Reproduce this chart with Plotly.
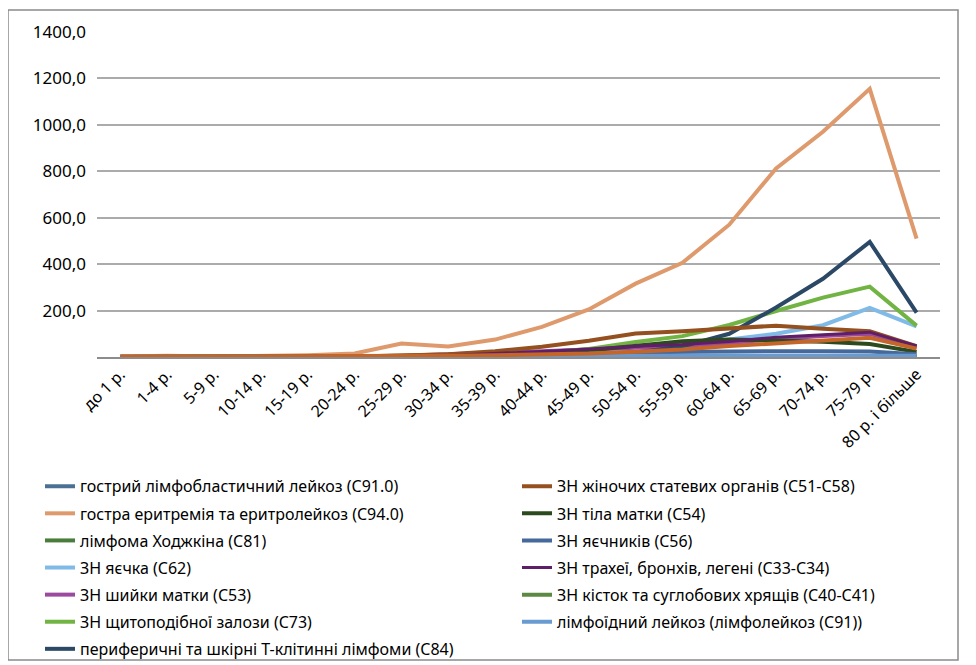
import plotly.graph_objects as go

ages = ["до 1 р.", "1-4 р.", "5-9 р.", "10-14 р.", "15-19 р.", "20-24 р.", "25-29 р.",
        "30-34 р.", "35-39 р.", "40-44 р.", "45-49 р.", "50-54 р.", "55-59 р.", "60-64 р.",
        "65-69 р.", "70-74 р.", "75-79 р.", "80 р. і більше"]

y_tick_values = [200, 400, 600, 800, 1000, 1200, 1400]
y_tick_labels = ["200,0", "400,0", "600,0", "800,0", "1000,0", "1200,0", "1400,0"]

c91_0 = [3, 5, 3, 2, 2, 1, 1, 1, 1, 1, 1, 1.5, 2, 2, 2.5, 3, 3, 2]
c94_0 = [2, 5, 2, 4, 8, 15, 58, 45, 75, 130, 205, 316, 406, 570, 812, 970, 1155, 510]
c81 = [0, 1, 2, 3, 4, 4, 4, 3, 3, 3, 3, 3, 3, 3, 3, 3, 3, 1]
c62 = [0, 0, 0, 0, 1, 2, 3, 5, 7, 10, 15, 22, 55, 75, 100, 137, 212, 132]
c53 = [0, 0, 0, 0, 0.5, 2, 5, 10, 18, 25, 32, 41, 47, 60, 78, 90, 100, 42]
c73 = [0, 0, 0, 0.5, 1, 3, 5, 8, 12, 18, 35, 65, 90, 138, 198, 256, 303, 135]
c84 = [0, 0, 0, 0, 0, 0.5, 1, 1, 2, 3, 8, 18, 46, 100, 213, 337, 496, 191]
c51_58 = [0, 0, 0, 0, 1, 2, 6, 12, 25, 44, 70, 101, 111, 122, 135, 122, 111, 47]
c54 = [0, 0, 0, 0, 0, 0.5, 1, 3, 6, 14, 28, 50, 68, 75, 72, 66, 56, 22]
c56 = [0, 0, 0, 0.5, 1, 1.5, 2, 3, 5, 8, 14, 20, 23, 24, 25, 25, 24, 12]
c33_34 = [0, 0, 0, 0, 0, 1, 3, 6, 14, 24, 34, 46, 54, 67, 85, 97, 107, 48]
c40_41 = [0, 1, 2, 3, 3, 2, 2, 1, 1, 1, 1, 1, 1, 1, 1, 1, 1, 0.5]
c91 = [1, 2, 1, 1, 1, 1, 1, 1, 1.5, 2, 3, 4, 5, 6, 6, 7, 7, 5]
extra_orange = [2, 2, 1, 1, 1, 2, 3, 5, 8, 11, 15, 23, 32, 47, 58, 68, 83, 36]

series = [
    ("гострий лімфобластичний лейкоз (C91.0)", c91_0, "#4C6F94", "legend", 4),
    ("гостра еритремія та еритролейкоз (C94.0)", c94_0, "#DE9A6C", "legend", 4),
    ("лімфома Ходжкіна (C81)", c81, "#4A7D3A", "legend", 4),
    ("ЗН яєчка (C62)", c62, "#80BBE8", "legend", 4),
    ("ЗН шийки матки (C53)", c53, "#9B4A9F", "legend", 4),
    ("ЗН щитоподібної залози (C73)", c73, "#72B443", "legend", 4),
    ("периферичні та шкірні Т-клітинні лімфоми (C84)", c84, "#2B4866", "legend", 4),
    ("ЗН жіночих статевих органів (C51-C58)", c51_58, "#94501F", "legend2", 4),
    ("ЗН тіла матки (C54)", c54, "#2D4A1E", "legend2", 4),
    ("ЗН яєчників (C56)", c56, "#44699A", "legend2", 4),
    ("ЗН трахеї, бронхів, легені (C33-C34)", c33_34, "#5F1F66", "legend2", 3),
    ("ЗН кісток та суглобових хрящів (C40-C41)", c40_41, "#5C8A45", "legend2", 4),
    ("лімфоїдний лейкоз (лімфолейкоз (C91))", c91, "#6A9BD0", "legend2", 4),
]

fig = go.Figure()
for i, (name, vals, color, leg, lw) in enumerate(series):
    fig.add_trace(go.Scatter(
        x=ages, y=vals, name=name, mode="lines",
        line=dict(color=color, width=lw),
        legend=leg, legendgroup="g%d" % i,
    ))
fig.add_trace(go.Scatter(
    x=ages, y=extra_orange, name="", mode="lines",
    line=dict(color="#C4652A", width=4), showlegend=False,
))

# the page body adds an 8px offset; work in page pixels and convert
OFF = 8
W, H = 968, 657
L = 97 - OFF
T = 32 - OFF
R = W - (940 - OFF)
B = H - (357.5 - OFF)
pw = W - L - R
ph = H - T - B

def px_x(p):
    return (p - OFF - L) / pw

def px_y(p):
    return (H - B - (p - OFF)) / ph

font_family = "Noto Sans, DejaVu Sans, sans-serif"

fig.update_layout(
    width=W, height=H,
    margin=dict(l=L, r=R, t=T, b=B, pad=0, autoexpand=False),
    paper_bgcolor="white", plot_bgcolor="white",
    font=dict(family=font_family, color="black"),
    xaxis=dict(
        type="category", range=[-0.5, len(ages) - 0.5],
        showgrid=False, showline=True, linecolor="#8C8C8C", linewidth=1.5,
        ticks="", tickangle=-45, tickfont=dict(size=16, family=font_family),
        zeroline=False, automargin=False,
    ),
    yaxis=dict(
        range=[0, 1400], tickvals=y_tick_values, ticktext=y_tick_labels,
        showgrid=True, gridcolor="#ABABAB", gridwidth=1.5,
        zeroline=False, showline=False, ticks="",
        tickfont=dict(size=17, family=font_family),
        ticklabelstandoff=10, automargin=False,
    ),
    legend=dict(
        x=px_x(40), y=px_y(470), xanchor="left", yanchor="top",
        font=dict(size=16, family=font_family), tracegroupgap=3.3,
        bgcolor="rgba(0,0,0,0)", borderwidth=0,
    ),
    legend2=dict(
        x=px_x(517), y=px_y(470), xanchor="left", yanchor="top",
        font=dict(size=16, family=font_family), tracegroupgap=3.3,
        bgcolor="rgba(0,0,0,0)", borderwidth=0,
    ),
    shapes=[dict(
        type="rect", xref="paper", yref="paper",
        x0=px_x(8), x1=px_x(958), y0=px_y(661), y1=px_y(10),
        line=dict(color="#8A8A8A", width=1.5), fillcolor="rgba(0,0,0,0)",
        layer="below",
    )],
)

fig.write_html("out.html")
